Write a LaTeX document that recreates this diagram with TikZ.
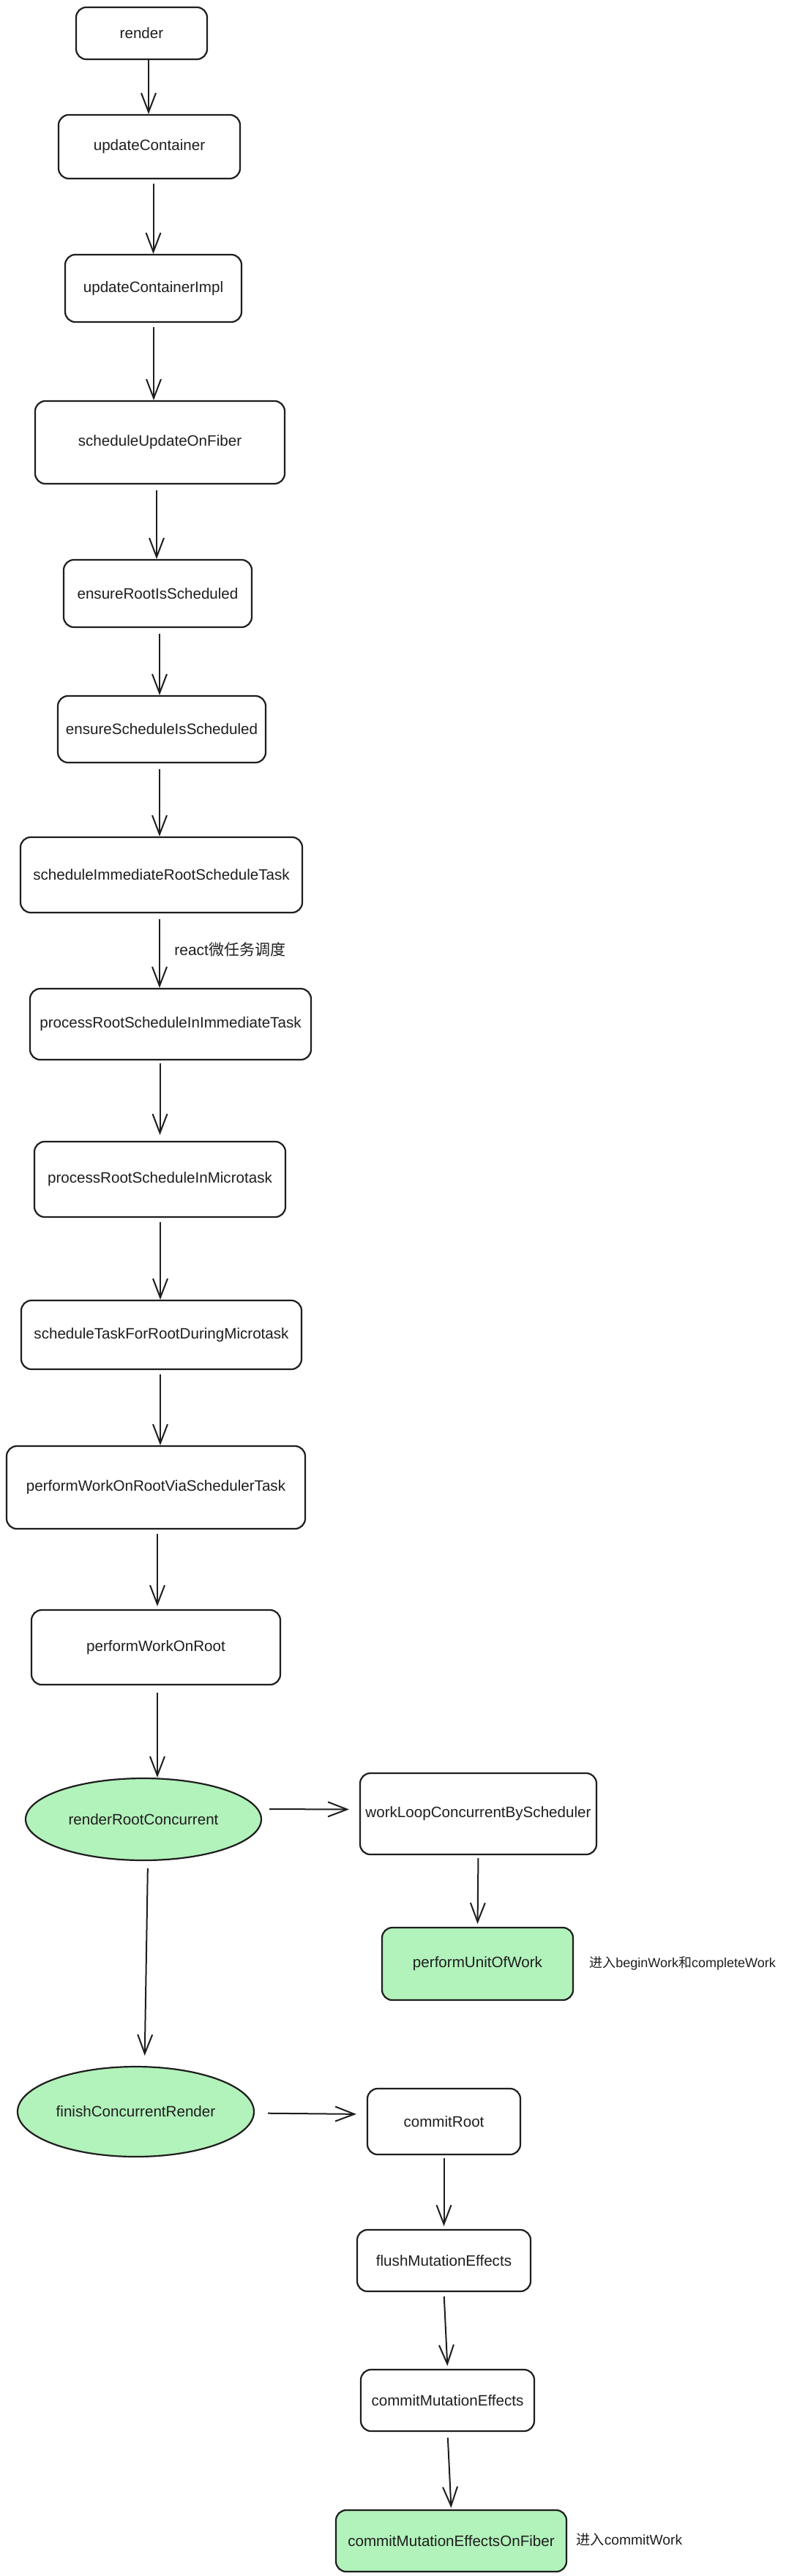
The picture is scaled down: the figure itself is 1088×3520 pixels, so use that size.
\documentclass[tikz,border=0pt]{standalone}
\usepackage{fontspec}
\setmainfont{Liberation Sans}
\newfontfamily\cjk{Noto Sans CJK SC}
\usetikzlibrary{arrows.meta,shapes.geometric}
\definecolor{ink}{HTML}{1E1E1E}
\definecolor{mint}{HTML}{B2F2BB}
\begin{document}
\begin{tikzpicture}[x=0.5pt,y=-0.5pt,
  every node/.style={font=\fontsize{10.3}{12}\selectfont, text=ink},
  box/.style={draw=ink, line width=1.1pt, rounded corners=7pt, fill=white, inner sep=2pt},
  gbox/.style={box, fill=mint},
  oval/.style={ellipse, draw=ink, line width=1.1pt, fill=mint, inner sep=0pt},
  lbl/.style={anchor=west, inner sep=0pt},
  arr/.style={draw=ink, line width=1pt, -{Straight Barb[length=13pt,width=10pt,line width=1pt]}}]
\fill[white] (0,0) rectangle (1088,3520);
\useasboundingbox (0,0) rectangle (1088,3520);

\node[box, minimum width=89.5pt, minimum height=35.5pt] (n1) at (193.5,45.5) {render};
\node[box, minimum width=124pt, minimum height=43.5pt] (n2) at (204,200.5) {updateContainer};
\node[box, minimum width=120.5pt, minimum height=46pt] (n3) at (209.5,394) {updateContainerImpl};
\node[box, minimum width=170.5pt, minimum height=56.5pt] (n4) at (218.5,604.5) {scheduleUpdateOnFiber};
\node[box, minimum width=128.5pt, minimum height=46pt] (n5) at (215.5,811) {ensureRootIsScheduled};
\node[box, minimum width=142pt, minimum height=45.5pt] (n6) at (221,996.5) {ensureScheduleIsScheduled};
\node[box, minimum width=192.5pt, minimum height=51.5pt] (n7) at (220.5,1195.5) {scheduleImmediateRootScheduleTask};
\node[box, minimum width=192pt, minimum height=48.5pt] (n8) at (233,1399.5) {processRootScheduleInImmediateTask};
\node[box, minimum width=171.5pt, minimum height=51.5pt] (n9) at (218.5,1611.5) {processRootScheduleInMicrotask};
\node[box, minimum width=191.5pt, minimum height=47pt] (n10) at (220.5,1824) {scheduleTaskForRootDuringMicrotask};
\node[box, minimum width=204pt, minimum height=56.5pt] (n11) at (213,2032.5) {performWorkOnRootViaSchedulerTask};
\node[box, minimum width=170pt, minimum height=51pt] (n12) at (213,2251) {performWorkOnRoot};
\node[oval, minimum width=161pt, minimum height=56pt] (rrc) at (196,2486) {renderRootConcurrent};
\node[box, minimum width=161.5pt, minimum height=55.5pt] (wl) at (653.5,2478.5) {workLoopConcurrentByScheduler};
\node[gbox, minimum width=130.5pt, minimum height=49.5pt] (pu) at (652.5,2683.5) {performUnitOfWork};
\node[oval, minimum width=161.5pt, minimum height=61.5pt] (fcr) at (185.5,2885.5) {finishConcurrentRender};
\node[box, minimum width=104.5pt, minimum height=45pt] (cr) at (606.5,2899) {commitRoot};
\node[box, minimum width=118.5pt, minimum height=42pt] (fm) at (606.5,3089) {flushMutationEffects};
\node[box, minimum width=118.5pt, minimum height=42pt] (cm) at (611.5,3280) {commitMutationEffects};
\node[gbox, minimum width=157.5pt, minimum height=42pt] (cmf) at (616.5,3472) {commitMutationEffectsOnFiber};

\node[lbl, font=\fontsize{10.5}{12}\selectfont] (l1) at (238,1297) {react{\cjk 微任务调度}};
\node[lbl, font=\fontsize{9}{11}\selectfont] (l2) at (805,2683) {{\cjk 进入}beginWork{\cjk 和}completeWork};
\node[lbl, font=\fontsize{9.6}{11}\selectfont] (l3) at (787,3470) {{\cjk 进入}commitWork};

\draw[arr] ([xshift=-0.5pt]n2.north |- n1.south) -- ([xshift=-0.5pt]n2.north);
\draw[arr, shorten <=3pt] (n3.north |- n2.south) -- (n3.north);
\draw[arr, shorten <=3pt] ([xshift=-4.25pt]n4.north |- n3.south) -- ([xshift=-4.25pt]n4.north);
\draw[arr, shorten <=4pt] ([xshift=-0.75pt]n5.north |- n4.south) -- ([xshift=-0.75pt]n5.north);
\draw[arr, shorten <=4pt] ([xshift=-1.5pt]n6.north |- n5.south) -- ([xshift=-1.5pt]n6.north);
\draw[arr, shorten <=4pt] ([xshift=-1.25pt]n7.north |- n6.south) -- ([xshift=-1.25pt]n7.north);
\draw[arr, shorten <=4pt] ([xshift=-7.5pt]n8.north |- n7.south) -- ([xshift=-7.5pt]n8.north);
\draw[arr, shorten <=2pt, shorten >=4pt] (n9.north |- n8.south) -- (n9.north);
\draw[arr, shorten <=3pt] ([xshift=-0.75pt]n10.north |- n9.south) -- ([xshift=-0.75pt]n10.north);
\draw[arr, shorten <=3pt] ([xshift=3pt]n11.north |- n10.south) -- ([xshift=3pt]n11.north);
\draw[arr, shorten <=3pt, shorten >=2pt] ([xshift=1pt]n12.north |- n11.south) -- ([xshift=1pt]n12.north);
\draw[arr, shorten <=5pt] ([xshift=1pt]n12.south) -- ([xshift=1pt]n12.south |- rrc.north);
\draw[arr, shorten <=5pt, shorten >=7pt] ([yshift=7pt]rrc.east) -- ([yshift=3pt]wl.west);
\draw[arr, shorten <=2pt, shorten >=2pt] (wl.south) -- (pu.north);
\draw[arr, shorten <=5pt, shorten >=7pt] ([xshift=3pt]rrc.south) -- ([xshift=6pt]fcr.north);
\draw[arr, shorten <=9pt, shorten >=7pt] ([yshift=-1pt]fcr.east) -- ([yshift=5pt]cr.west);
\draw[arr, shorten <=2pt, shorten >=2pt] (cr.south) -- (fm.north);
\draw[arr, shorten <=3pt, shorten >=2pt] (fm.south) -- (cm.north);
\draw[arr, shorten <=4pt, shorten >=1pt] (cm.south) -- (cmf.north);
\end{tikzpicture}
\end{document}
